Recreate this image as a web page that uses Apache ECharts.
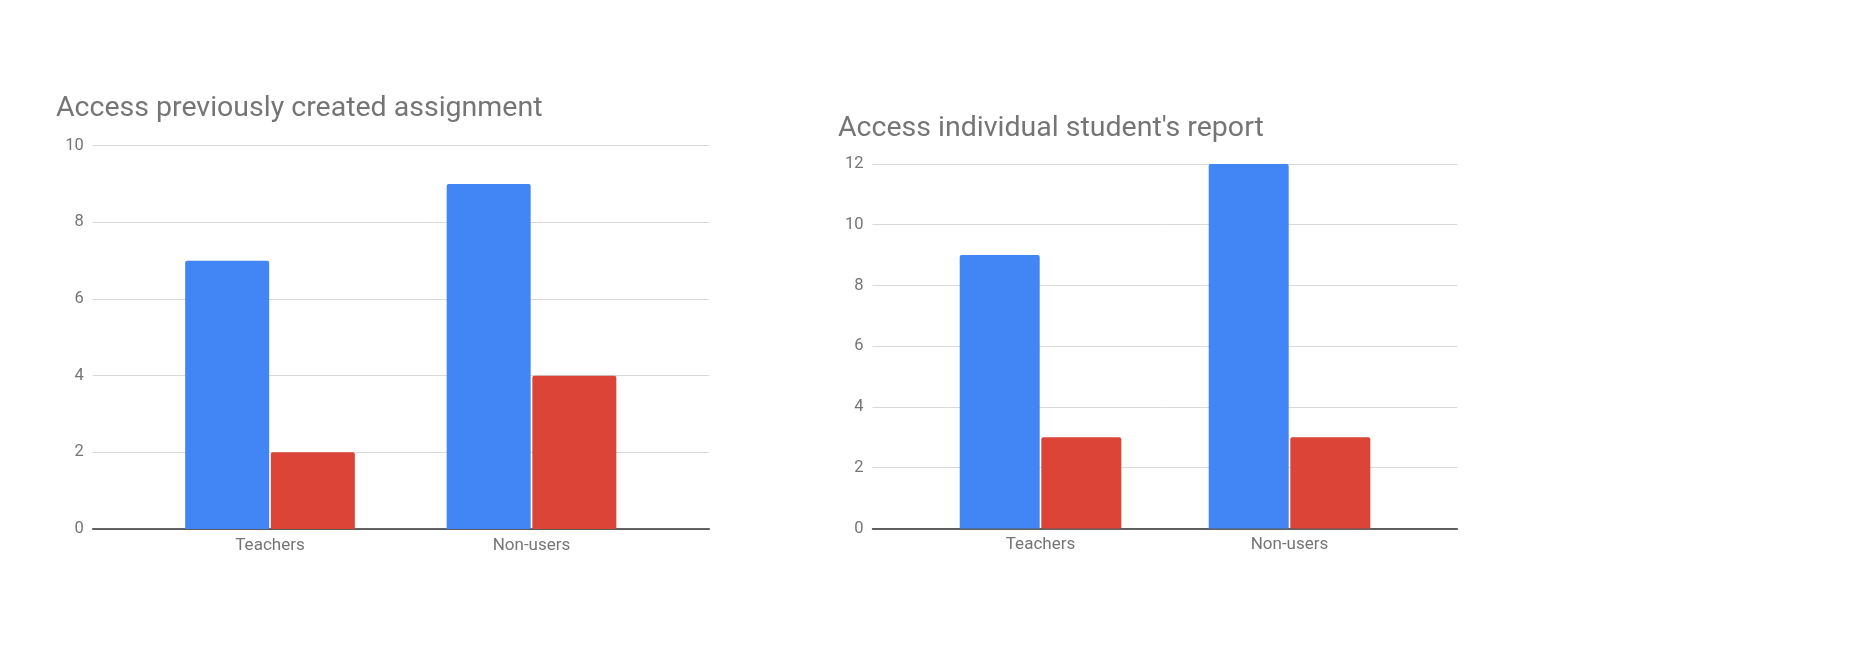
<!DOCTYPE html>
<html>
<head>
<meta charset="utf-8">
<script src="https://cdn.jsdelivr.net/npm/echarts@6/dist/echarts.min.js"></script>
<style>
html,body{margin:0;padding:0;background:#fff;}
#chart{width:1871px;height:645px;}
</style>
</head>
<body>
<div id="chart"></div>
<script>
// ---- data ----
const categories = ['Teachers', 'Non-users'];
const titleLeft = 'Access previously created assignment';
const titleRight = "Access individual student's report";
const leftBlue = [7, 9];
const leftRed = [2, 4];
const rightBlue = [9, 12];
const rightRed = [3, 3];
const leftMax = 10, leftStep = 2;
const rightMax = 12, rightStep = 2;

// ---- styles ----
const BLUE = '#4285F4', RED = '#DB4437';
const TEXT = '#757575', GRID = '#d9d9d9', AXIS = '#333333';
const FONT = 'Roboto';

function bgAxes(gi, max, step) {
  return {
    x: { gridIndex: gi, type: 'value', min: 0, max: 1, show: true,
         axisLine: { show: true, onZero: false, lineStyle: { color: AXIS, width: 1.5 } },
         axisTick: { show: false }, axisLabel: { show: false }, splitLine: { show: false } },
    y: { gridIndex: gi, type: 'value', min: 0, max: max, interval: step,
         axisLine: { show: false }, axisTick: { show: false },
         axisLabel: { color: TEXT, fontFamily: FONT, fontSize: 16.5, margin: 9 },
         splitLine: { lineStyle: { color: GRID, width: 1 } } }
  };
}
function barAxes(gi, max) {
  return {
    x: { gridIndex: gi, type: 'category', data: categories, boundaryGap: true,
         axisLine: { show: false }, axisTick: { show: false },
         axisLabel: { color: TEXT, fontFamily: FONT, fontSize: 17, margin: 8 } },
    y: { gridIndex: gi, type: 'value', min: 0, max: max, show: false,
         splitLine: { show: false } }
  };
}
const a0 = bgAxes(0, leftMax, leftStep), a1 = barAxes(1, leftMax);
const a2 = bgAxes(2, rightMax, rightStep), a3 = barAxes(3, rightMax);

function bar(xi, yi, data, color, w) {
  return { type: 'bar', xAxisIndex: xi, yAxisIndex: yi, data: data, barWidth: w, barGap: '2%',
           itemStyle: { color: color, borderRadius: [2, 2, 0, 0] }, silent: true, animation: false };
}

const option = {
  animation: false,
  backgroundColor: '#ffffff',
  title: [
    { text: titleLeft, left: 56, top: 94, padding: 0,
      textStyle: { color: TEXT, fontFamily: FONT, fontSize: 28.5, fontWeight: 'normal' } },
    { text: titleRight, left: 838, top: 114, padding: 0,
      textStyle: { color: TEXT, fontFamily: FONT, fontSize: 28.5, fontWeight: 'normal' } }
  ],
  grid: [
    { left: 92.7, top: 145.7, width: 616.6, height: 383.3, containLabel: false, outerBoundsMode: 'none' },
    { left: 139.25, top: 145.7, width: 523, height: 383.3, containLabel: false, outerBoundsMode: 'none' },
    { left: 872.5, top: 164, width: 584.8, height: 364.4, containLabel: false, outerBoundsMode: 'none' },
    { left: 916, top: 164, width: 498, height: 364.4, containLabel: false, outerBoundsMode: 'none' }
  ],
  xAxis: [a0.x, a1.x, a2.x, a3.x],
  yAxis: [a0.y, a1.y, a2.y, a3.y],
  series: [
    bar(1, 1, leftBlue, BLUE, 84),
    bar(1, 1, leftRed, RED, 84),
    bar(3, 3, rightBlue, BLUE, 80),
    bar(3, 3, rightRed, RED, 80)
  ]
};
const chart = echarts.init(document.getElementById('chart'), null, { renderer: 'canvas' });
chart.setOption(option);
</script>
</body>
</html>
